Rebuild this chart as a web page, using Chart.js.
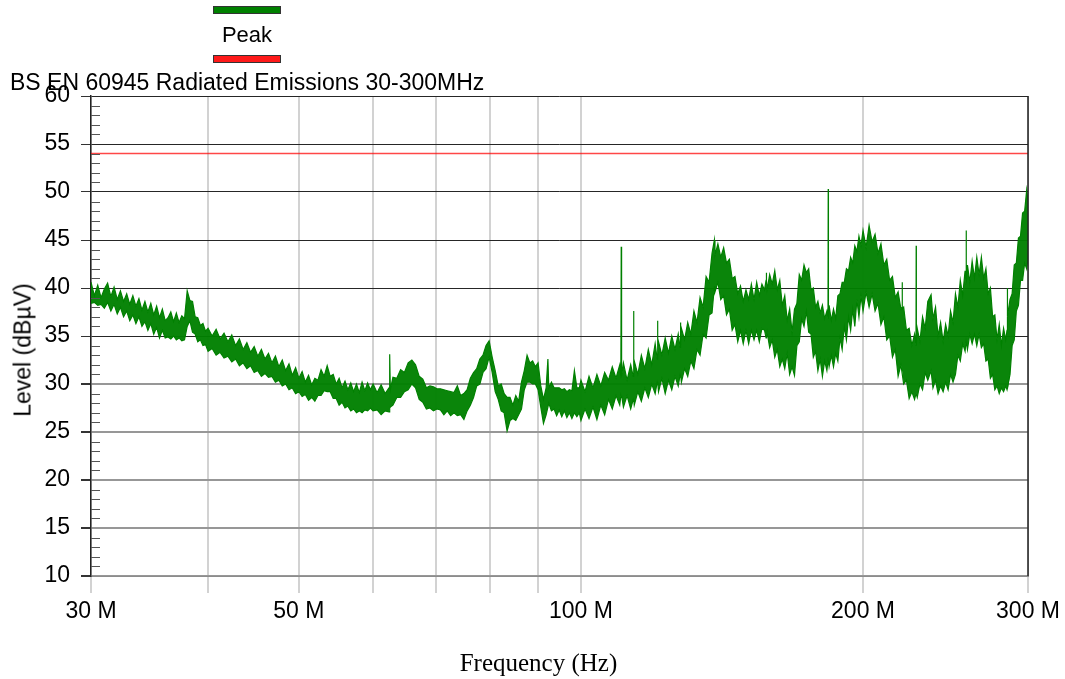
<!DOCTYPE html>
<html>
<head>
<meta charset="utf-8">
<script src="https://cdn.jsdelivr.net/npm/chart.js@4.4.0/dist/chart.umd.min.js"></script>
<style>
  html, body { margin: 0; padding: 0; background: #fff; }
  #wrap { position: relative; width: 1065px; height: 679px; overflow: hidden; }
  #chart { position: absolute; left: 0; top: 0; }
  .sans { font-family: "Liberation Sans", Arial, Helvetica, sans-serif; color: #000; white-space: nowrap; position: absolute; }
  #title { left: 10px; top: 70.5px; font-size: 23px; line-height: 23px; }
  .key { position: absolute; left: 213px; width: 66px; height: 6px; border: 1px solid #333; }
  #keyPeakText { left: 197px; width: 100px; top: 24px; text-align: center; font-size: 22px; line-height: 22px; }
  #yTitle { left: 23px; top: 350px; font-size: 23px; line-height: 23px; transform: translate(-50%, -50%) rotate(-90deg); }
  #xTitle { position: absolute; left: 0; width: 1077px; top: 650px; text-align: center; font-family: "Liberation Serif", "Times New Roman", serif; font-size: 25px; line-height: 25px; color: #000; white-space: nowrap; }
</style>
</head>
<body>
<div id="wrap">
  <canvas id="chart" width="1065" height="679"></canvas>
  <div class="key" id="keyPeak" style="top:6px"></div>
  <div class="sans" id="keyPeakText"></div>
  <div class="key" id="keyLimit" style="top:55px"></div>
  <div class="sans" id="title"></div>
  <div class="sans" id="yTitle"></div>
  <div id="xTitle"></div>
</div>
<script>
// Peak scan, reduced to a min/max envelope per frequency step (MHz, dBµV)
const freqMHz = [
  30.00, 30.25, 30.50, 30.75, 31.00, 31.25, 31.50, 31.75, 32.00, 32.25,
  32.50, 32.75, 33.00, 33.25, 33.50, 33.75, 34.00, 34.25, 34.50, 34.75,
  35.00, 35.25, 35.50, 35.75, 36.00, 36.25, 36.50, 36.75, 37.00, 37.25,
  37.50, 37.75, 38.00, 38.25, 38.50, 38.75, 39.00, 39.25, 39.50, 39.75,
  40.0, 40.4, 40.8, 41.2, 41.6, 42.0, 42.4, 42.8, 43.2, 43.6,
  44.0, 44.4, 44.8, 45.2, 45.6, 46.0, 46.4, 46.8, 47.2, 47.6,
  48.0, 48.4, 48.8, 49.2, 49.6, 50.0, 50.4, 50.8, 51.2, 51.6,
  52.0, 52.4, 52.8, 53.2, 53.6, 54.0, 54.4, 54.8, 55.2, 55.6,
  56.0, 56.4, 56.8, 57.2, 57.6, 58.0, 58.4, 58.8, 59.2, 59.6,
  60.0, 60.6, 61.2, 61.8, 62.4, 62.5, 62.6, 63.0, 63.6, 64.2,
  64.8, 65.4, 66.0, 66.6, 67.2, 67.8, 68.4, 69.0, 69.6, 70.2,
  70.8, 71.4, 72.0, 72.6, 73.2, 73.8, 74.4, 75.0, 75.6, 76.2,
  76.8, 77.4, 78.0, 78.6, 79.2, 79.8, 80.4, 81.0, 81.6, 82.2,
  82.8, 83.4, 84.0, 84.6, 85.2, 85.8, 86.4, 87.0, 87.6, 88.2,
  88.8, 89.4, 90.0, 90.6, 91.2, 91.8, 92.2, 92.4, 93.0, 93.6,
  94.2, 94.8, 95.4, 96.0, 96.6, 97.2, 97.8, 98.4, 99.0, 99.6,
  100, 101, 102, 103, 104, 105, 106, 107, 108, 109,
  110, 110.3, 110.4, 110.5, 111, 112, 113, 113.7, 113.8, 113.9,
  114, 115, 116, 117, 118, 119, 120, 120.6, 120.7, 120.8,
  121, 122, 123, 124, 125, 126, 127, 127.6, 127.7, 127.8,
  128, 129, 130, 131, 132, 133, 134, 135, 136, 137,
  138, 138.8, 139, 140, 141, 142, 143, 144, 145, 146,
  147, 148, 149, 150, 151, 152, 153, 154, 155, 156,
  157, 157.6, 157.7, 157.8, 158, 159, 160, 161, 162, 163,
  164, 165, 166, 167, 168, 169, 170, 171, 172, 173,
  174, 175, 176, 177, 178, 179, 180, 181, 182, 183,
  183.5, 183.6, 183.7, 184, 185, 186, 187, 188, 189, 190,
  191, 192, 193, 194, 195, 196, 197, 198, 199,
  200, 201.5, 203, 204.5, 206, 207.5, 209, 210.5, 212, 213.5,
  215, 216.5, 218, 219.5, 220.1, 220.2, 220.3, 221, 222.5, 224,
  225.5, 227, 227.8, 227.9, 228.0, 228.5, 230, 231.5, 233, 234.5,
  236.4, 237.5, 239, 240.5, 242, 243.5, 245, 246.5, 248, 249.5,
  251, 252.5, 254, 255.5, 257, 257.6, 257.7, 257.8, 258.5, 260,
  261.5, 263, 264.5, 266, 267.5, 269, 270.5, 272, 273.5, 275,
  276.5, 278, 279.5, 281, 282.5, 284, 284.9, 285.0, 285.1, 285.5,
  287, 288.5, 290, 291.5, 293, 294.5, 296, 297.5, 299, 300
];

const peakMax = [
  40.6, 39.2, 40.3, 39.0, 39.9, 40.5, 39.1, 40.1, 38.8, 39.7,
  38.6, 39.4, 38.3, 39.2, 38.1, 38.9, 37.7, 38.6, 37.5, 38.4,
  37.2, 38.1, 36.9, 37.8, 36.6, 36.9, 37.5, 36.5, 37.4, 36.4,
  37.1, 36.8, 39.7, 38.7, 38.6, 37.0, 36.9, 36.1, 36.3, 35.5,
  35.8, 35.0, 35.7, 34.7, 35.3, 34.4, 35.1, 34.0, 34.7, 33.6,
  34.3, 33.3, 33.9, 32.9, 33.6, 32.6, 33.2, 32.2, 32.9, 31.8,
  32.5, 31.4, 32.1, 30.9, 31.7, 30.6, 31.3, 30.2, 30.9, 29.9,
  30.6, 30.4, 31.5, 30.8, 31.9, 30.8, 31.0, 30.0, 30.6, 29.6,
  30.3, 29.4, 30.1, 29.2, 30.0, 29.1, 30.2, 29.3, 30.1, 29.4,
  30.0, 29.1, 29.9, 29.0, 29.6, 33.1, 29.4, 30.7, 30.6, 31.5,
  31.2, 32.2, 32.5, 32.0, 30.8, 30.5, 29.6, 29.8, 29.7, 29.5,
  29.5, 29.4, 29.3, 29.2, 29.1, 29.8, 28.8, 29.0, 29.4, 30.6,
  31.2, 31.6, 32.6, 33.0, 34.0, 34.5, 32.8, 31.4, 29.8, 30.0,
  29.0, 28.6, 28.6, 27.8, 28.8, 28.2, 30.2, 31.4, 33.0, 32.2,
  32.4, 31.8, 32.2, 29.8, 28.4, 29.6, 32.6, 29.6, 30.2, 29.6,
  29.6, 29.6, 29.4, 29.5, 29.2, 29.4, 29.3, 31.4, 29.6, 29.6,
  30.4, 29.2, 30.8, 29.6, 31.0, 29.8, 31.2, 30.4, 31.8, 30.6,
  32.0, 30.6, 44.3, 30.8, 32.2, 30.4, 32.0, 30.8, 37.6, 31.0,
  32.4, 31.0, 33.0, 31.6, 33.6, 32.0, 34.2, 32.6, 36.6, 32.6,
  34.4, 33.0, 34.8, 33.2, 35.0, 33.6, 35.2, 33.8, 36.4, 34.0,
  35.8, 34.6, 36.4, 35.2, 37.6, 36.4, 39.0, 38.0, 41.2, 40.6,
  43.6, 45.0, 43.4, 44.6, 43.2, 44.2, 42.6, 43.0, 41.0, 41.2,
  39.4, 40.2, 38.6, 39.8, 38.8, 40.4, 38.8, 40.6, 39.2, 40.4,
  39.8, 40.8, 41.6, 40.8, 39.8, 41.4, 40.4, 41.8, 39.8, 40.8,
  38.2, 39.2, 36.6, 37.8, 35.4, 37.8, 38.4, 41.4, 40.8, 42.4,
  41.6, 42.0, 39.8, 40.0, 38.0, 38.6, 37.4, 38.2, 36.8, 37.6,
  36.8, 50.3, 36.8, 38.2, 36.6, 37.8, 36.8, 39.2, 39.4, 40.6,
  40.6, 42.0, 41.8, 43.2, 42.6, 44.4, 43.8, 45.4, 44.4,
  46.0, 44.2, 46.5, 44.8, 45.6, 43.6, 44.6, 42.4, 43.0, 40.8,
  41.2, 39.0, 39.6, 37.8, 38.0, 40.6, 37.8, 38.0, 35.6, 35.8,
  34.0, 35.2, 34.0, 44.4, 34.0, 35.8, 34.4, 37.0, 35.8, 38.6,
  39.3, 36.8, 38.0, 35.0, 36.4, 34.4, 36.2, 35.0, 37.6, 36.4,
  39.4, 38.0, 40.8, 39.2, 41.8, 40.4, 46.0, 40.4, 42.4, 40.6,
  42.8, 41.0, 43.2, 41.4, 43.2, 41.0, 42.0, 39.4, 40.0, 37.0,
  37.2, 34.6, 36.2, 34.0, 35.8, 34.6, 35.6, 40.0, 35.6, 37.0,
  38.8, 39.4, 42.4, 42.6, 45.2, 45.4, 47.8, 48.0, 50.2, 49.0
];

const peakMin = [
  38.4, 38.5, 38.2, 38.3, 37.9, 38.5, 37.6, 38.3, 37.3, 38.0,
  37.0, 37.6, 36.6, 37.2, 36.3, 37.0, 36.0, 36.5, 35.6, 36.3,
  35.2, 35.9, 34.8, 35.6, 34.8, 34.9, 34.7, 35.0, 34.6, 34.8,
  34.5, 34.6, 36.0, 36.6, 35.4, 35.2, 34.4, 34.6, 34.0, 34.1,
  33.4, 33.7, 33.0, 33.3, 32.7, 32.9, 32.3, 32.6, 31.9, 32.2,
  31.6, 31.9, 31.2, 31.4, 30.8, 31.1, 30.7, 30.8, 30.2, 30.4,
  29.8, 30.0, 29.4, 29.6, 29.0, 29.2, 28.7, 28.9, 28.3, 28.6,
  28.2, 28.8, 28.8, 29.3, 29.2, 29.2, 28.5, 28.5, 27.8, 28.1,
  27.5, 27.7, 27.2, 27.4, 27.0, 27.2, 27.0, 27.3, 27.2, 27.5,
  27.2, 27.3, 26.8, 27.2, 27.1, 27.5, 27.6, 27.8, 28.6, 28.6,
  29.2, 29.4, 30.0, 29.6, 28.4, 28.1, 27.4, 27.5, 27.2, 27.4,
  27.3, 26.8, 27.2, 26.7, 27.0, 26.7, 26.8, 26.3, 27.2, 27.8,
  28.6, 29.8, 30.0, 31.2, 31.6, 32.8, 31.2, 29.2, 28.4, 27.2,
  27.0, 25.1, 26.2, 26.4, 26.2, 26.8, 27.4, 29.4, 30.2, 30.2,
  30.0, 30.0, 29.4, 27.6, 25.9, 26.8, 27.6, 28.0, 27.2, 27.4,
  26.7, 27.3, 26.6, 27.2, 26.5, 27.0, 26.4, 27.0, 26.6, 27.0,
  26.2, 27.4, 26.4, 27.6, 26.3, 27.8, 26.8, 28.4, 27.4, 28.8,
  27.8, 28.8, 28.6, 28.8, 27.6, 28.8, 27.4, 28.4, 28.2, 28.4,
  27.8, 29.2, 28.2, 29.6, 28.6, 30.0, 29.0, 30.2, 30.0, 30.2,
  29.2, 30.6, 29.0, 30.4, 29.4, 30.8, 29.8, 31.0, 30.8, 31.0,
  30.2, 31.6, 30.8, 32.4, 31.6, 33.6, 33.0, 35.2, 34.8, 37.2,
  37.4, 40.2, 39.6, 40.6, 38.8, 39.2, 37.2, 37.8, 35.6, 36.2,
  34.4, 35.6, 34.2, 35.6, 34.2, 35.6, 34.6, 35.6, 34.4, 35.8,
  35.6, 34.8, 35.0, 34.8, 35.4, 33.8, 34.6, 32.8, 33.6, 31.8,
  32.6, 31.6, 33.2, 31.0, 31.8, 30.9, 34.0, 34.4, 36.8, 36.0,
  37.6, 35.4, 35.2, 32.8, 33.4, 31.4, 32.6, 30.8, 32.4, 31.4,
  32.4, 32.2, 32.4, 31.8, 33.0, 31.8, 33.2, 32.4, 34.8, 33.6,
  36.0, 34.6, 37.0, 35.6, 37.8, 36.0, 38.8, 37.0, 39.2,
  37.6, 39.6, 38.0, 39.4, 37.6, 38.4, 36.2, 37.0, 34.6, 35.0,
  32.8, 33.6, 30.8, 32.0, 31.2, 31.2, 31.2, 30.0, 30.4, 28.5,
  29.2, 28.4, 29.0, 29.0, 29.0, 28.6, 30.0, 29.4, 31.2, 30.4,
  31.4, 29.6, 30.4, 29.0, 29.8, 29.2, 30.2, 29.4, 31.0, 30.2,
  31.0, 33.0, 32.4, 34.2, 33.4, 34.4, 34.2, 34.4, 33.6, 35.2,
  34.2, 35.2, 34.0, 35.2, 33.8, 34.2, 32.4, 32.6, 30.6, 31.0,
  29.4, 29.8, 29.0, 29.6, 29.2, 29.8, 29.4, 29.4, 29.4, 29.4,
  31.0, 34.0, 34.6, 37.6, 38.2, 40.8, 40.8, 42.6, 42.0, 43.2
];

// Limit line (dBµV) across the band
const limitFreqMHz = [30, 300];
const limitLevel = [54, 54];

// Axis ticks
const xTickValues = [30, 40, 50, 60, 70, 80, 90, 100, 200, 300];
const xTickLabels = ['30 M', '', '50 M', '', '', '', '', '100 M', '200 M', '300 M'];
const yMin = 10, yMax = 60, yStep = 5;

const chartTitle = 'BS EN 60945 Radiated Emissions 30-300MHz';
const xTitle = 'Frequency (Hz)';
const yTitle = 'Level (dBµV)';
const peakLabel = 'Peak';
const peakColor = '#008000';
const limitColor = '#ff1a1a';

document.getElementById('title').textContent = chartTitle;
document.getElementById('xTitle').textContent = xTitle;
document.getElementById('yTitle').textContent = yTitle;
document.getElementById('keyPeakText').textContent = peakLabel;
document.getElementById('keyPeak').style.background = peakColor;
document.getElementById('keyLimit').style.background = limitColor;

const upperPoints = freqMHz.map((f, i) => ({ x: f, y: peakMax[i] }));
const lowerPoints = freqMHz.map((f, i) => ({ x: f, y: peakMin[i] }));
const limitPoints = limitFreqMHz.map((f, i) => ({ x: f, y: limitLevel[i] }));

const sans = '"Liberation Sans", Arial, sans-serif';

// Minor ticks on the level axis and the right-hand frame edge
const framePlugin = {
  id: 'frame',
  afterDraw(chart) {
    const { ctx, chartArea, scales } = chart;
    const y = scales.y;
    ctx.save();
    ctx.strokeStyle = '#555';
    ctx.lineWidth = 1;
    for (let v = yMin; v <= yMax; v++) {
      if (v % yStep === 0) continue;
      const py = Math.round(y.getPixelForValue(v)) + 0.5;
      ctx.beginPath();
      ctx.moveTo(chartArea.left, py);
      ctx.lineTo(chartArea.left + 9, py);
      ctx.stroke();
    }
    ctx.strokeStyle = '#222';
    ctx.lineWidth = 1.5;
    ctx.beginPath();
    ctx.moveTo(chartArea.right, chartArea.top);
    ctx.lineTo(chartArea.right, chartArea.bottom);
    ctx.stroke();
    ctx.restore();
  }
};

new Chart(document.getElementById('chart'), {
  type: 'line',
  data: {
    datasets: [
      {
        label: 'Limit',
        data: limitPoints,
        borderColor: 'rgba(255,0,0,0.72)',
        borderWidth: 1.5,
        pointRadius: 0,
        fill: false
      },
      {
        label: peakLabel,
        data: upperPoints,
        borderColor: peakColor,
        backgroundColor: 'rgba(0,128,0,0.96)',
        borderWidth: 1.2,
        pointRadius: 0,
        tension: 0,
        fill: '+1'
      },
      {
        label: peakLabel + ' min',
        data: lowerPoints,
        borderColor: peakColor,
        borderWidth: 1.2,
        pointRadius: 0,
        tension: 0,
        fill: false
      }
    ]
  },
  options: {
    responsive: false,
    animation: false,
    events: [],
    layout: { padding: { top: 96, right: 36, left: 0, bottom: 0 } },
    plugins: {
      legend: { display: false },
      title: { display: false },
      tooltip: { enabled: false }
    },
    scales: {
      x: {
        type: 'logarithmic',
        min: 30,
        max: 300,
        afterBuildTicks(scale) {
          scale.ticks = xTickValues.map(v => ({ value: v }));
        },
        afterFit(scale) { scale.height = 103; },
        ticks: {
          autoSkip: false,
          maxRotation: 0,
          minRotation: 0,
          padding: 5,
          color: '#000',
          font: { family: sans, size: 23 },
          callback: (value, index) => xTickLabels[index]
        },
        grid: {
          color: '#d2d2d2',
          lineWidth: 2,
          tickLength: 17,
          tickColor: '#d2d2d2',
          drawTicks: true
        },
        border: { display: true, color: '#8c8c8c', width: 1 },
        title: { display: false }
      },
      y: {
        min: yMin,
        max: yMax,
        afterFit(scale) { scale.width = 91; },
        ticks: {
          stepSize: yStep,
          padding: 11,
          color: '#000',
          font: { family: sans, size: 23 }
        },
        grid: {
          color: ctx => (ctx.tick && ctx.tick.value >= 35) ? '#262626' : '#979797',
          lineWidth: ctx => (ctx.tick && ctx.tick.value >= 35) ? 1 : 2,
          tickLength: 10,
          tickColor: '#333',
          drawTicks: true
        },
        border: { display: true, color: '#222', width: 1.5 },
        title: { display: false }
      }
    }
  },
  plugins: [framePlugin]
});
</script>
</body>
</html>
